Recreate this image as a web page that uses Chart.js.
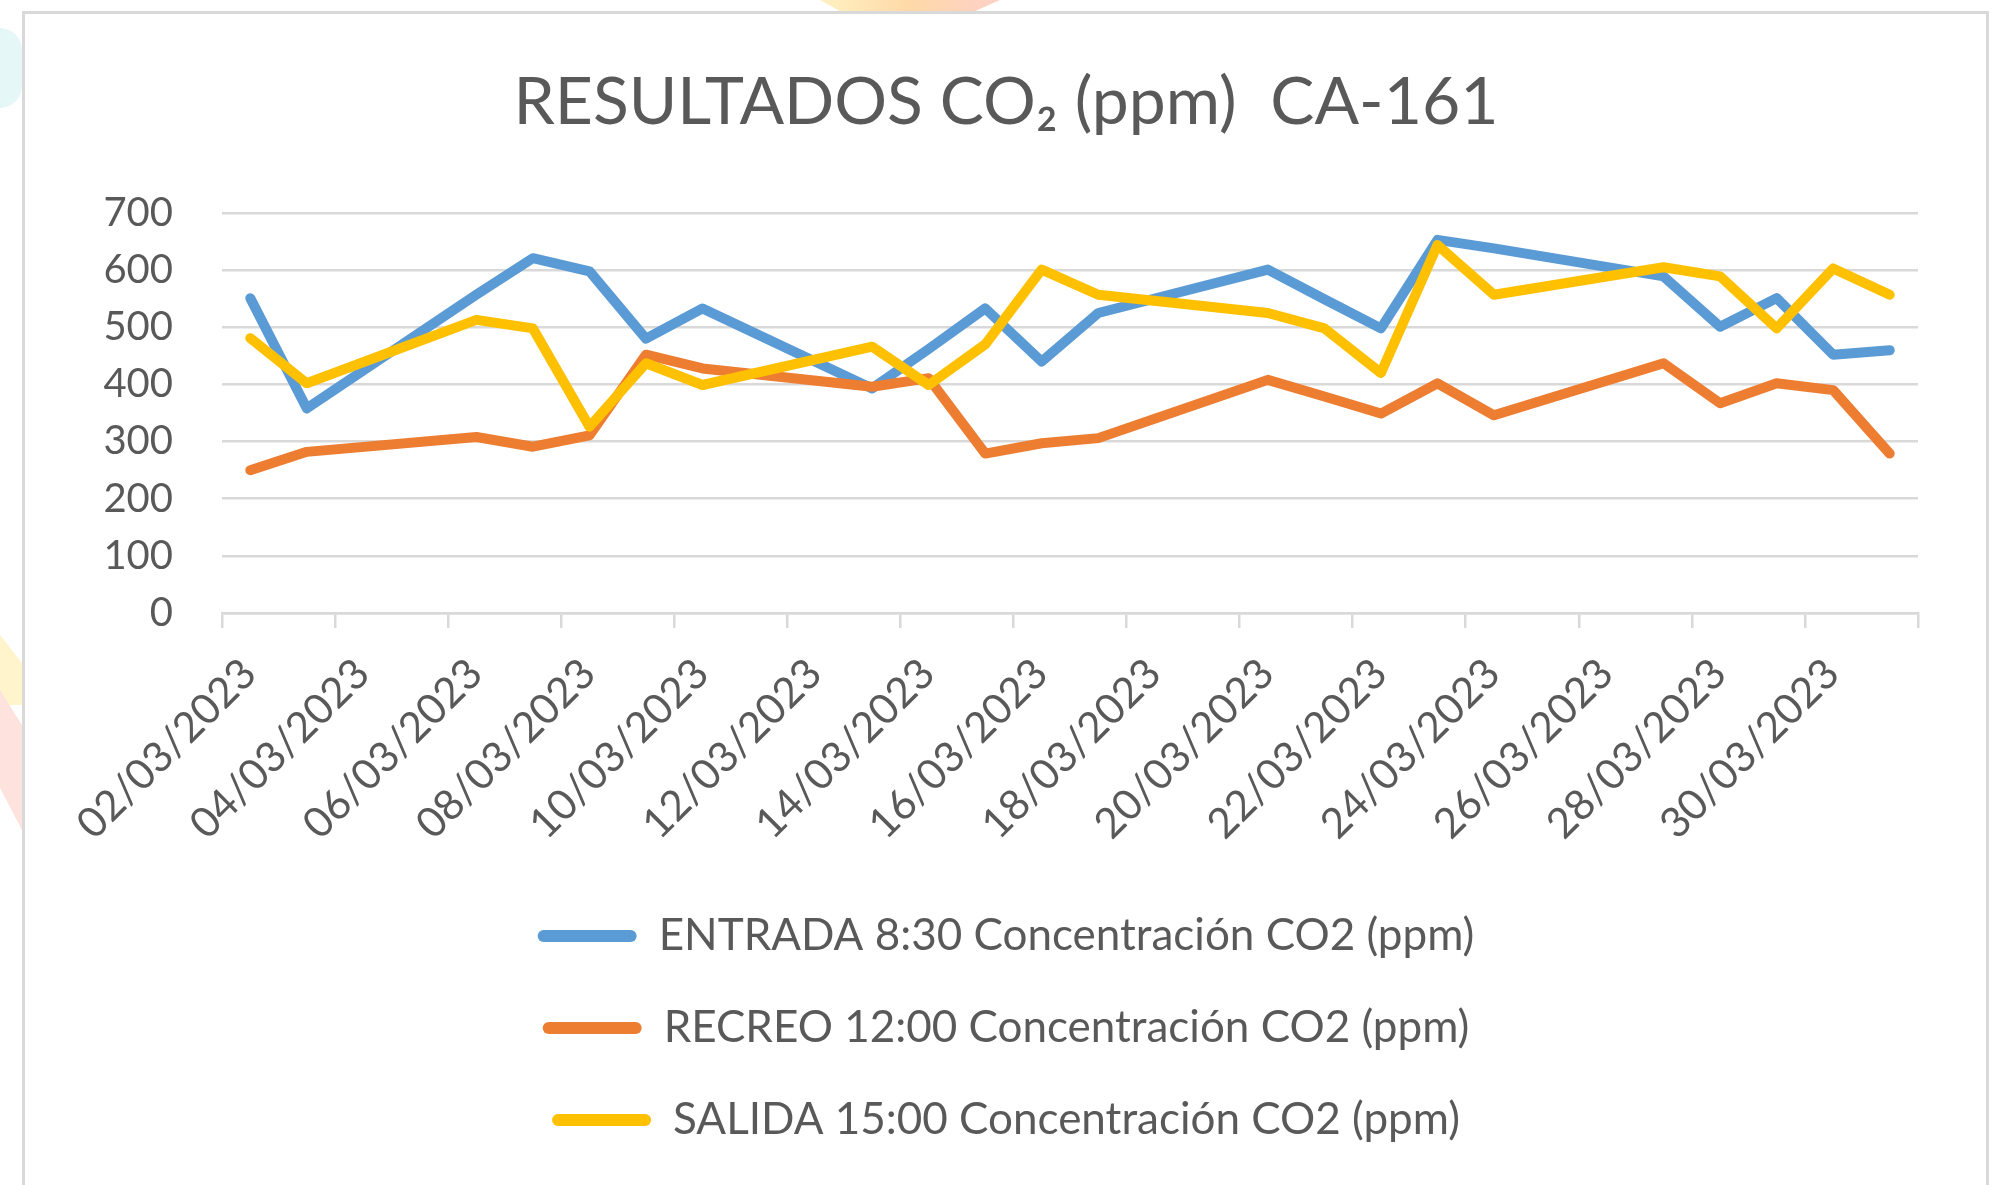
<!DOCTYPE html>
<html>
<head>
<meta charset="utf-8">
<script src="https://cdn.jsdelivr.net/npm/chart.js@4.4.1/dist/chart.umd.min.js"></script>
<style>
html,body{margin:0;padding:0;background:#ffffff;width:2005px;height:1185px;overflow:hidden;}
#frame{position:absolute;left:22px;top:11px;width:1967px;height:1200px;border:3px solid #d9d9d9;box-sizing:border-box;}
#wrap{position:absolute;left:0;top:0;width:2005px;height:1185px;}
.deco{position:absolute;}
</style>
</head>
<body>
<div class="deco" style="left:0;top:28px;width:22px;height:80px;background:#e6f7f7;border-radius:0 30px 30px 0;"></div>
<div class="deco" style="left:0;top:635px;width:22px;height:70px;background:#fff4cc;clip-path:polygon(0 0,100% 40%,100% 100%,0 100%);"></div>
<div class="deco" style="left:0;top:690px;width:22px;height:140px;background:#fde2dd;clip-path:polygon(0 0,100% 25%,100% 100%,0 70%);"></div>
<div class="deco" style="left:820px;top:0;width:180px;height:12px;background:linear-gradient(90deg,#fff1c2,#ffd9a8,#fdd0c8);clip-path:polygon(0 0,100% 0,85% 100%,12% 100%);"></div>
<div id="frame"></div>
<div id="wrap"><canvas id="c" width="2005" height="1185"></canvas></div>
<script>
const dates = [
  '02/03/2023','03/03/2023','04/03/2023','05/03/2023','06/03/2023','07/03/2023','08/03/2023','09/03/2023','10/03/2023','11/03/2023',
  '12/03/2023','13/03/2023','14/03/2023','15/03/2023','16/03/2023','17/03/2023','18/03/2023','19/03/2023','20/03/2023','21/03/2023',
  '22/03/2023','23/03/2023','24/03/2023','25/03/2023','26/03/2023','27/03/2023','28/03/2023','29/03/2023','30/03/2023','31/03/2023'
];
const xTickLabels = [
  '02/03/2023','04/03/2023','06/03/2023','08/03/2023','10/03/2023','12/03/2023','14/03/2023','16/03/2023',
  '18/03/2023','20/03/2023','22/03/2023','24/03/2023','26/03/2023','28/03/2023','30/03/2023'
];
const yTickValues = [0, 100, 200, 300, 400, 500, 600, 700];

const entrada = [551,358,null,null,557,621,598,480,533,null,null,393,462,533,440,525,null,null,601,549,498,653,638,null,null,589,501,551,452,460];
const recreo  = [250,282,null,null,308,291,311,452,428,null,null,396,411,279,297,306,null,null,408,379,349,402,346,null,null,437,367,402,390,279];
const salida  = [481,402,null,null,513,498,326,437,399,null,null,466,399,470,601,557,null,null,525,498,420,644,557,null,null,605,589,498,603,557];

const seriesNames = [
  'ENTRADA 8:30 Concentración CO2 (ppm)',
  'RECREO 12:00 Concentración CO2 (ppm)',
  'SALIDA 15:00 Concentración CO2 (ppm)'
];
const titleText = 'RESULTADOS CO\u2082 (ppm)  CA-161';

const TXT = '#595959';
const GRID = '#d9d9d9';
const FONT = 'Lato';

function lineDs(label, data, color, order) {
  return {
    label, data, order,
    borderColor: color, backgroundColor: color,
    borderWidth: 10, pointRadius: 0, pointHoverRadius: 0,
    tension: 0, spanGaps: true, fill: false,
    borderCapStyle: 'round', borderJoinStyle: 'round'
  };
}

new Chart(document.getElementById('c'), {
  type: 'line',
  data: {
    labels: dates,
    datasets: [
      lineDs(seriesNames[0], entrada, '#5B9BD5', 3),
      lineDs(seriesNames[1], recreo, '#ED7D31', 2),
      lineDs(seriesNames[2], salida, '#FFC000', 1)
    ]
  },
  options: {
    responsive: false,
    animation: false,
    events: [],
    layout: { padding: { left: 94, right: 87, top: 0, bottom: 33 } },
    plugins: {
      tooltip: { enabled: false },
      title: {
        display: true,
        text: titleText,
        color: TXT,
        font: { family: FONT, size: 66, weight: 'normal' },
        padding: { top: 63, bottom: 70.8 }
      },
      legend: {
        display: true,
        position: 'bottom',
        align: 'center',
        labels: {
          color: TXT,
          font: { family: FONT, size: 44 },
          boxWidth: 99,
          boxHeight: 12,
          padding: 48,
          sort: (a, b) => a.datasetIndex - b.datasetIndex,
          generateLabels: (chart) => {
            const items = Chart.defaults.plugins.legend.labels.generateLabels(chart);
            items.forEach(it => { it.fillStyle = it.strokeStyle; it.lineWidth = 0; it.borderRadius = 6; });
            return items;
          }
        }
      }
    },
    scales: {
      x: {
        type: 'category',
        offset: true,
        afterFit: (s) => { s.height = 253; },
        grid: {
          display: true,
          offset: true,
          drawOnChartArea: false,
          drawTicks: true,
          tickLength: 15,
          lineWidth: 2.5,
          color: GRID,
          tickColor: (ctx) => (ctx.index === undefined || ctx.index % 2 === 0) ? GRID : 'rgba(0,0,0,0)'
        },
        border: { display: true, color: GRID, width: 2.5 },
        ticks: {
          autoSkip: false,
          minRotation: 45,
          maxRotation: 45,
          padding: 21,
          labelOffset: -1,
          color: TXT,
          font: { family: FONT, size: 42 },
          callback: function (value, index) {
            const lab = this.getLabelForValue(value);
            return xTickLabels.includes(lab) ? lab : '';
          }
        }
      },
      y: {
        min: 0,
        max: 700,
        afterFit: (s) => { s.width = 128; },
        afterBuildTicks: (s) => { s.ticks = yTickValues.map(v => ({ value: v })); },
        grid: { color: GRID, lineWidth: 2.5, drawTicks: false },
        border: { display: false },
        ticks: {
          padding: 49,
          color: TXT,
          font: { family: FONT, size: 40 }
        }
      }
    }
  }
});
</script>
</body>
</html>
